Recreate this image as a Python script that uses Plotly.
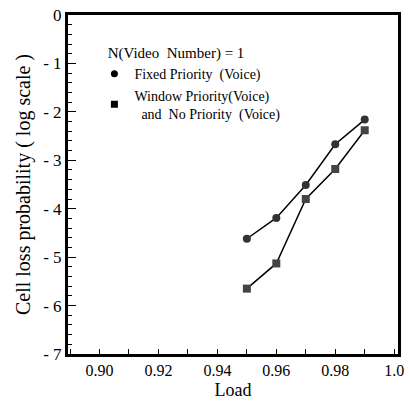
import plotly.graph_objects as go

load = [0.95, 0.96, 0.97, 0.98, 0.99]
fixed_priority = [-4.62, -4.19, -3.51, -2.67, -2.16]
window_priority = [-5.65, -5.13, -3.80, -3.18, -2.38]

y_major = [-7, -6, -5, -4, -3, -2, -1]
y_alias = {}
for v in y_major:
    y_alias["\u2212" + str(-v)] = "- " + str(-v)
    y_alias["-" + str(-v)] = "- " + str(-v)

FONT = "Liberation Serif"
XR = [0.8893, 1.0013]
YR = [-7, 0]

fig = go.Figure()
fig.add_trace(go.Scatter(
    x=load, y=fixed_priority, mode="lines+markers", name="Fixed Priority  (Voice)",
    line=dict(color="black", width=1.5),
    marker=dict(symbol="circle", size=8, color="#333"),
    showlegend=False))
fig.add_trace(go.Scatter(
    x=load, y=window_priority, mode="lines+markers",
    name="Window Priority(Voice)<br>and  No Priority  (Voice)",
    line=dict(color="black", width=1.5),
    marker=dict(symbol="square", size=8, color="#444"),
    showlegend=False))
# legend entries (marker only)
fig.add_trace(go.Scatter(x=[None], y=[None], mode="markers", name="Fixed Priority  (Voice)",
                         marker=dict(symbol="circle", size=7, color="black")))
fig.add_trace(go.Scatter(x=[None], y=[None], mode="markers",
                         name="Window Priority(Voice)<br>  and  No Priority  (Voice)",
                         marker=dict(symbol="square", size=7, color="black")))

fig.update_layout(
    width=410, height=410,
    margin=dict(l=68, r=6, t=13, b=56),
    plot_bgcolor="white",
    font=dict(family=FONT, color="black"),
    xaxis=dict(range=XR, tickmode="linear", tick0=0.9, dtick=0.02, tickformat=".2f",
               labelalias={"1.00": "1.0"},
               ticks="inside", ticklen=5, tickcolor="black",
               minor=dict(dtick=0.01, ticks="inside", ticklen=5, tickcolor="black"),
               showline=True, linewidth=3, linecolor="black", mirror=True,
               showgrid=False, zeroline=False,
               tickfont=dict(size=16, family=FONT, color="black"),
               title=dict(text="Load", standoff=6, font=dict(size=18, family=FONT, color="black"))),
    yaxis=dict(range=YR, tickmode="linear", tick0=0, dtick=1, labelalias=y_alias,
               ticks="inside", ticklen=8, tickcolor="black",
               minor=dict(dtick=0.2, ticks="inside", ticklen=4, tickcolor="black"),
               showline=True, linewidth=3, linecolor="black", mirror=True,
               showgrid=False, zeroline=False,
               tickfont=dict(size=17, family=FONT, color="black"),
               title=dict(text="Cell loss probability ( log scale )", standoff=8,
                          font=dict(size=20, family=FONT, color="black"))),
    showlegend=True,
    legend=dict(x=0.08, y=0.93, xanchor="left", yanchor="top",
                bgcolor="rgba(0,0,0,0)", borderwidth=0, tracegroupgap=2,
                itemwidth=30,
                title=dict(text="   N(Video  Number) = 1", font=dict(size=15, family=FONT, color="black")),
                font=dict(size=14, family=FONT, color="black")),
)

fig.write_html("out.html")
